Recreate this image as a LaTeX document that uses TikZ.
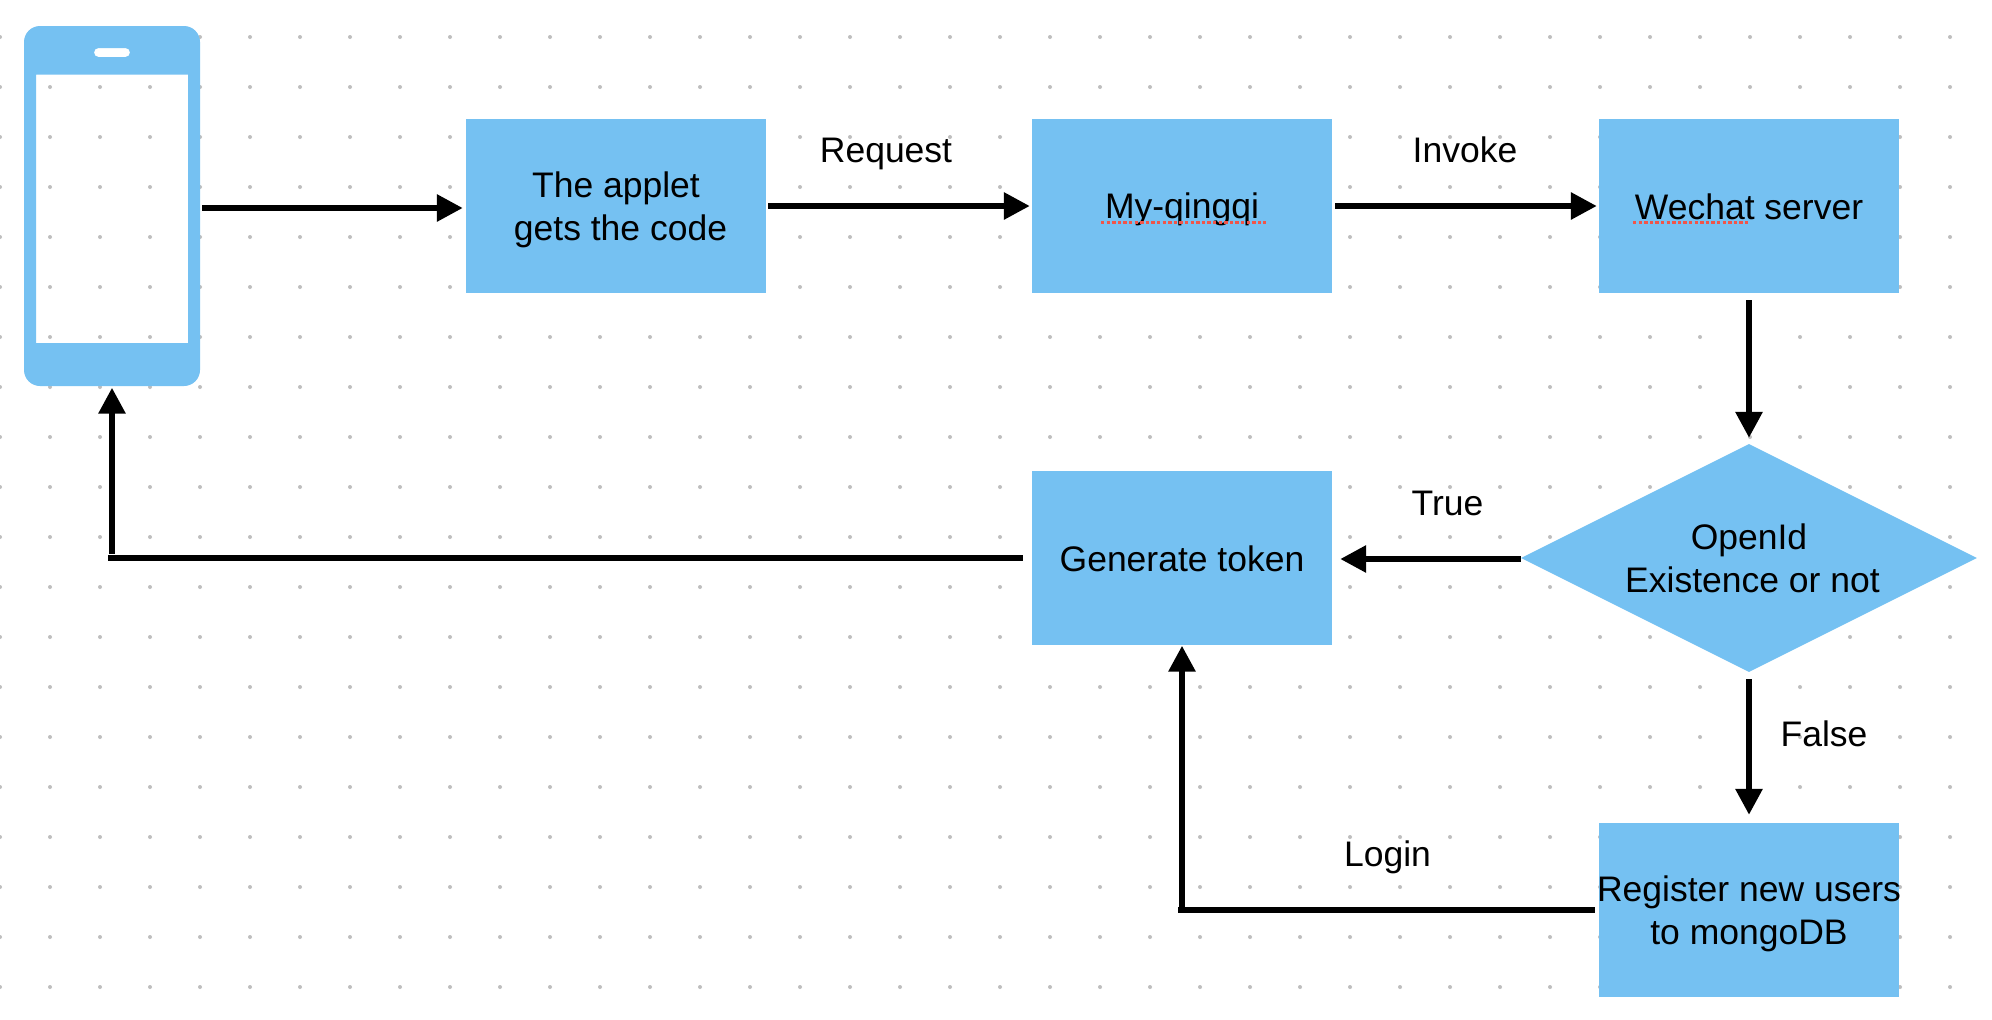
\documentclass[tikz,border=0pt]{standalone}
\usepackage{fontspec}
\setmainfont{Liberation Sans}
\usetikzlibrary{arrows.meta,shapes.geometric}
\definecolor{boxblue}{HTML}{75C1F2}
\definecolor{dotgray}{HTML}{BEBEBE}
\definecolor{squiggle}{HTML}{F0564A}
\newcommand\lnstrut{\rule[-7pt]{0pt}{40pt}}
\tikzset{
  x=1pt,y=-1pt,
  label text/.style={font=\fontsize{35.5}{42.5}\selectfont,text=black,align=center,inner sep=0pt},
  bluebox/.style={label text,fill=boxblue,minimum width=300pt,minimum height=174pt},
  decision/.style={label text,diamond,aspect=2,fill=boxblue,minimum width=456pt,minimum height=228pt},
  plainline/.style={line width=6pt,draw=black},
  flow/.style={plainline,-{Triangle[length=26pt,width=26pt]}},
  spell/.style={draw=squiggle,line width=3pt,dash pattern=on 3.4pt off 2.2pt},
}
\begin{document}
\begin{tikzpicture}
\useasboundingbox (0,0) rectangle (1992,1020);
\fill[white] (0,0) rectangle (1992,1020);
\foreach \i in {0,...,39}{\foreach \j in {0,...,19}{
  \fill[dotgray] (50*\i,37+50*\j) circle[radius=2pt];}}
% phone
\fill[boxblue,even odd rule]
  [rounded corners=16pt] (24,26) rectangle (200,386)
  [sharp corners] (36,74.5) rectangle (188,343)
  [rounded corners=4.5pt] (94,48) rectangle (130,57);
\node[minimum width=176pt,minimum height=360pt,inner sep=0pt] (phone) at (112,206) {};
% boxes
\node[bluebox] (applet) at (616,206) {\lnstrut The applet\\\hspace*{9pt}\lnstrut gets the code};
\node[bluebox] (server) at (1182,206) {\lnstrut My-qingqi};
\node[bluebox] (wechat) at (1749,206) {\lnstrut Wechat server};
\node[bluebox] (token) at (1182,558) {\lnstrut Generate token};
\node[bluebox] (register) at (1749,910) {\makebox[296pt][c]{\lnstrut Register new users}\\\lnstrut to mongoDB};
\node[decision] (openid) at (1749,558) {\lnstrut OpenId\\\hspace*{7pt}\lnstrut Existence or not};
% spell-check underlines
\coordinate (s1a) at (1101,222.3); \coordinate (s1b) at (1266,222.3);
\coordinate (s2a) at (1633,222.3); \coordinate (s2b) at (1750,222.3);
\draw[spell] (s1a) -- (s1b);
\draw[spell] (s2a) -- (s2b);
% connectors
\coordinate (cornerlogin) at (token.south |- register.west);
\coordinate (cornerback) at (phone.south |- token.west);
\draw[flow,shorten <=2pt,shorten >=3pt] ([yshift=-2pt]phone.east) -- ([yshift=-2pt]applet.west);
\draw[flow,shorten <=2pt,shorten >=2pt] (applet.east) -- (server.west);
\draw[flow,shorten <=3pt,shorten >=2pt] (server.east) -- (wechat.west);
\draw[flow,shorten <=7pt,shorten >=6pt] (wechat.south) -- (openid.north);
\draw[flow,shorten >=8pt] ([yshift=-1pt]openid.west) -- ([yshift=-1pt]token.east);
\draw[flow,shorten <=7pt,shorten >=8pt] (openid.south) -- (register.north);
\draw[plainline,shorten <=4pt,shorten >=-4pt] (register.west) -- (cornerlogin);
\draw[flow,shorten <=3pt,shorten >=0.5pt] (cornerlogin) -- (token.south);
\draw[plainline,shorten <=9pt,shorten >=-4pt] (token.west) -- (cornerback);
\draw[flow,shorten <=4pt,shorten >=1.5pt] (cornerback) -- (phone.south);
% labels
\node[label text] (lrequest) at (886,149.7) {\lnstrut Request};
\node[label text] (linvoke) at (1465,149.7) {\lnstrut Invoke};
\node[label text] (ltrue) at (1447.5,502) {\lnstrut True};
\node[label text] (lfalse) at (1824,733.7) {\lnstrut False};
\node[label text] (llogin) at (1387.5,853.7) {\lnstrut Login};
\end{tikzpicture}
\end{document}
